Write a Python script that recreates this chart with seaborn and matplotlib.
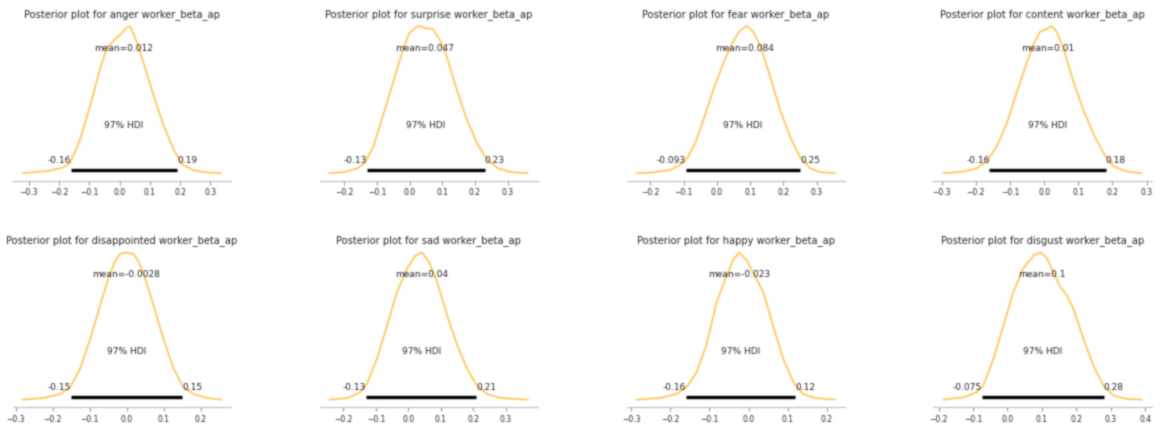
import numpy as np
import pandas as pd
import matplotlib
matplotlib.use("Agg")
import matplotlib.pyplot as plt
from matplotlib.ticker import MultipleLocator
import seaborn as sns

# Posterior summaries for the worker-level emotion coefficients
emotions = ["anger", "surprise", "fear", "content",
            "disappointed", "sad", "happy", "disgust"]
means = [0.012, 0.047, 0.084, 0.01, -0.0028, 0.04, -0.023, 0.1]
hdi_low = [-0.16, -0.13, -0.093, -0.16, -0.15, -0.13, -0.16, -0.075]
hdi_high = [0.19, 0.23, 0.25, 0.18, 0.15, 0.21, 0.12, 0.28]

# Kernel density curves (relative density, peak = 1)
x_anger = [-0.32, -0.23, -0.185, -0.163, -0.13, -0.097, -0.064, -0.042, -0.02, 0.002,
           0.024, 0.035, 0.057, 0.079, 0.112, 0.146, 0.179, 0.206, 0.245, 0.289, 0.335]
d_anger = [0, 0.016, 0.04, 0.07, 0.23, 0.46, 0.71, 0.85, 0.9, 0.94,
           0.99, 1.0, 0.89, 0.75, 0.53, 0.32, 0.16, 0.06, 0.02, 0.005, 0]

x_surprise = [-0.245, -0.2, -0.158, -0.1375, -0.111, -0.085, -0.054, -0.023, -0.002, 0.019, 0.029,
              0.05, 0.071, 0.092, 0.1125, 0.144, 0.175, 0.206, 0.2375, 0.269, 0.31, 0.362]
d_surprise = [0, 0.007, 0.034, 0.07, 0.18, 0.365, 0.59, 0.82, 0.95, 0.99, 1.0,
              0.985, 0.98, 0.91, 0.80, 0.57, 0.365, 0.205, 0.09, 0.034, 0.007, 0]

x_fear = [-0.242, -0.19, -0.14, -0.11, -0.09, -0.065, -0.04, -0.01, 0.02, 0.05, 0.07,
          0.09, 0.11, 0.13, 0.16, 0.19, 0.22, 0.25, 0.28, 0.31, 0.355]
d_fear = [0, 0.005, 0.023, 0.057, 0.10, 0.205, 0.365, 0.57, 0.75, 0.90, 0.97,
          1.0, 0.96, 0.87, 0.66, 0.43, 0.25, 0.11, 0.034, 0.007, 0]

x_content = [-0.295, -0.236, -0.197, -0.168, -0.139, -0.109, -0.08, -0.051, -0.026, -0.012, 0.008,
             0.022, 0.037, 0.057, 0.086, 0.115, 0.144, 0.174, 0.203, 0.242, 0.286]
d_content = [0, 0.01, 0.034, 0.08, 0.18, 0.34, 0.55, 0.75, 0.90, 0.96, 0.98,
             1.0, 0.96, 0.845, 0.62, 0.43, 0.27, 0.137, 0.046, 0.011, 0]

x_disappointed = [-0.281, -0.225, -0.18, -0.153, -0.126, -0.099, -0.072, -0.05, -0.032, -0.018, 0.0,
                  0.018, 0.032, 0.05, 0.072, 0.099, 0.126, 0.153, 0.18, 0.216, 0.254]
d_disappointed = [0, 0.011, 0.038, 0.084, 0.21, 0.41, 0.64, 0.82, 0.94, 0.99, 1.0,
                  0.99, 0.94, 0.82, 0.64, 0.41, 0.21, 0.084, 0.038, 0.011, 0]

x_sad = [-0.243, -0.19, -0.148, -0.128, -0.097, -0.066, -0.035, -0.004, 0.022, 0.042,
         0.063, 0.089, 0.12, 0.151, 0.181, 0.212, 0.243, 0.284, 0.369]
d_sad = [0, 0.009, 0.05, 0.106, 0.276, 0.50, 0.73, 0.89, 0.98, 1.0,
         0.94, 0.80, 0.57, 0.37, 0.21, 0.095, 0.038, 0.011, 0]

x_happy = [-0.287, -0.227, -0.185, -0.159, -0.133, -0.108, -0.082, -0.056, -0.039, -0.024,
           -0.005, 0.016, 0.038, 0.063, 0.089, 0.115, 0.14, 0.174, 0.221]
d_happy = [0, 0.011, 0.038, 0.084, 0.186, 0.37, 0.66, 0.84, 0.95, 1.0,
           0.95, 0.84, 0.73, 0.50, 0.276, 0.118, 0.038, 0.009, 0]

x_disgust = [-0.186, -0.128, -0.089, -0.07, -0.041, -0.012, 0.017, 0.046, 0.076, 0.095, 0.114,
             0.134, 0.153, 0.172, 0.192, 0.221, 0.25, 0.279, 0.308, 0.347, 0.39]
d_disgust = [0, 0.016, 0.05, 0.095, 0.276, 0.50, 0.73, 0.89, 0.98, 1.0, 0.966,
             0.86, 0.77, 0.71, 0.615, 0.41, 0.23, 0.095, 0.027, 0.005, 0]

grids = [x_anger, x_surprise, x_fear, x_content,
         x_disappointed, x_sad, x_happy, x_disgust]
densities = [d_anger, d_surprise, d_fear, d_content,
             d_disappointed, d_sad, d_happy, d_disgust]

sns.set_style("white")
plt.rcParams["font.family"] = ["DejaVu Sans"]

LABEL_SIZE = 6.5
TITLE_SIZE = 7.1
TICK_SIZE = 5.5
CURVE_COLOR = "#FFC44D"

fig, axes = plt.subplots(2, 4, figsize=(11.66, 4.27), dpi=100)
fig.subplots_adjust(left=0.0109, right=0.9877, bottom=0.0445, top=0.954,
                    wspace=0.4065, hspace=0.399)

for ax, name, xs, ds, mu, lo, hi in zip(axes.flat, emotions, grids, densities,
                                         means, hdi_low, hdi_high):
    frame = pd.DataFrame({"x": xs, "density": ds})
    sns.lineplot(data=frame, x="x", y="density", ax=ax, color=CURVE_COLOR,
                 linewidth=1.2, sort=False, estimator=None)
    height = ax.get_ylim()[1]

    # highest density interval bar with its bounds
    ax.plot([lo, hi], [height * 0.02, height * 0.02], color="k",
            lw=2.4, solid_capstyle="butt")
    ax.text(lo, height * 0.07, str(lo), size=LABEL_SIZE, ha="right")
    ax.text(hi, height * 0.07, str(hi), size=LABEL_SIZE, ha="left")
    ax.text((lo + hi) / 2, height * 0.3, "97% HDI", size=LABEL_SIZE, ha="center")

    # posterior mean
    ax.text(mu, height * 0.8, f"mean={mu}", size=LABEL_SIZE, ha="center")

    ax.set_title(f"Posterior plot for {name} worker_beta_ap", fontsize=TITLE_SIZE, pad=2)
    ax.set_xlabel("")
    ax.set_ylabel("")
    ax.set_yticks([])
    ax.xaxis.set_major_locator(MultipleLocator(0.1))
    for side in ("left", "right", "top"):
        ax.spines[side].set_visible(False)
    ax.spines["bottom"].set_color("0.75")
    ax.tick_params(axis="x", direction="out", bottom=True, width=0.8, length=3,
                   color="0.6", labelsize=TICK_SIZE, pad=2)

# render, then soften slightly with a small gaussian kernel
fig.canvas.draw()
img = np.asarray(fig.canvas.buffer_rgba())[..., :3].astype(float) / 255.0
sigma = 0.7
r = np.arange(-2, 3)
kernel = np.exp(-(r ** 2) / (2 * sigma ** 2))
kernel /= kernel.sum()
padded = np.pad(img, ((2, 2), (2, 2), (0, 0)), mode="edge")
rows = sum(k * padded[:, 2 + o: 2 + o + img.shape[1]] for k, o in zip(kernel, r))
soft = sum(k * rows[2 + o: 2 + o + img.shape[0]] for k, o in zip(kernel, r))
plt.imsave("out.png", np.clip(soft, 0, 1))
